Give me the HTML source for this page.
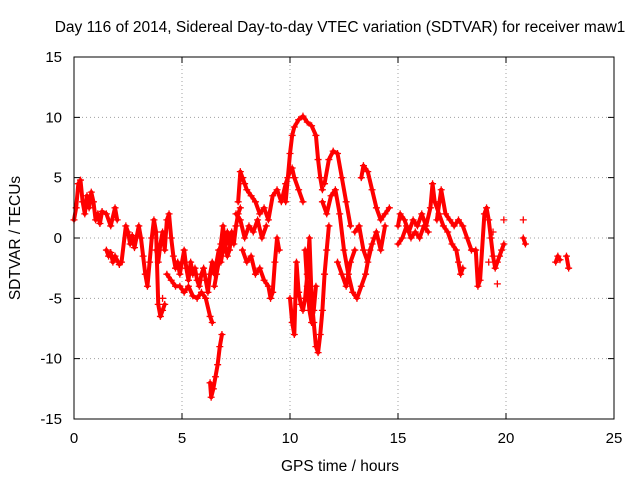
<!DOCTYPE html>
<html><head><meta charset="utf-8"><style>
body{margin:0;background:#fff}
svg{display:block;font-family:"Liberation Sans",sans-serif}
</style></head><body>
<svg id="chart" width="640" height="480">
<rect width="640" height="480" fill="#fff"/>
<text x="340" y="32" font-size="15.5" text-anchor="middle">Day 116 of 2014, Sidereal Day-to-day VTEC variation (SDTVAR) for receiver maw1</text>
<text x="340" y="471" font-size="15.5" text-anchor="middle">GPS time / hours</text>
<text x="20" y="238" font-size="15.5" text-anchor="middle" transform="rotate(-90 20 238)">SDTVAR / TECUs</text>
<g id="grid"></g><g id="ticks"></g><g id="pts"></g>
<rect x="74" y="57" width="540" height="362" fill="none" stroke="#000" stroke-width="1"/>
</svg>
<script>
const xTicks=[0,5,10,15,20,25];
const yTicks=[-15,-10,-5,0,5,10,15];
const times=[0,0.1,0.2,0.3,0.4,0.5,0.6,0.7,0.8,0.9,1.0,1.1,1.2,1.3,1.5,1.7,1.9,2.0,
1.5,1.6,1.7,1.8,1.9,2.1,2.2,2.4,2.5,2.6,2.7,2.8,3.0,3.1,3.2,3.3,3.4,3.5,3.6,3.7,3.8,
3.9,4.0,4.1,4.2,4.1,
3.8,3.9,4.0,4.1,4.2,4.3,4.4,4.5,4.6,4.7,4.8,4.9,5.0,5.1,5.2,5.3,5.4,5.5,5.6,5.7,5.8,5.9,6.0,6.1,6.2,6.3,6.4,6.5,6.6,6.7,6.8,6.9,7.0,7.1,7.2,7.3,7.4,7.5,7.6,7.7,
4.3,4.5,4.7,4.9,5.1,5.3,5.5,5.7,5.9,6.1,6.3,6.4,
6.3,6.35,6.45,6.55,6.65,6.75,6.85,
6.5,6.6,6.7,6.8,6.9,7.0,7.1,7.2,
7.6,7.7,7.8,7.9,8.0,8.2,8.4,8.6,8.8,9.0,9.2,9.4,9.6,9.8,10.0,10.1,10.2,10.4,10.6,
9.8,9.9,10.0,10.1,10.2,10.4,10.6,10.8,11.0,11.2,11.3,11.4,11.5,
7.8,8.0,8.2,8.4,8.6,8.8,9.0,9.1,9.2,9.3,9.4,9.5,
7.5,7.7,7.9,8.1,8.3,8.5,8.7,8.9,
10.0,10.1,10.2,10.3,10.4,10.5,10.6,10.7,10.8,10.9,
11.0,11.1,11.2,11.3,11.4,11.5,11.6,11.7,11.8,
10.7,10.8,10.9,11.0,11.1,11.2,
11.6,11.8,12.0,12.2,12.4,12.6,12.8,
11.5,11.7,11.9,12.1,12.3,12.5,12.7,12.9,13.1,13.3,13.5,13.7,13.9,
12.2,12.4,12.6,12.8,13.0,
13.3,13.4,13.6,13.8,14.0,14.2,14.4,14.6,
13.0,13.2,13.4,13.6,13.8,14.0,14.2,14.4,
15.0,15.1,15.3,15.5,15.7,15.9,16.1,16.3,16.5,16.6,16.7,16.9,17.1,17.3,17.5,17.7,17.8,17.9,18.0,
15.0,15.2,15.4,15.6,15.8,16.0,16.2,16.4,16.8,17.0,17.2,17.4,17.6,17.8,18.0,18.2,18.4,18.6,
18.7,18.8,19.0,19.1,19.2,19.3,19.4,19.5,19.6,19.7,19.8,19.9,19.6,19.4,19.2,
19.9,20.8,20.8,20.9,22.3,22.4,22.5,22.8,22.9];
const values=[1.5,2.5,4.5,4.8,3,2,3.5,2.5,3.8,3,1.5,2,1.2,2.2,2,1,2.5,1.5,
-1,-1.5,-1.2,-2,-1.5,-2.2,-2,1,0.5,-0.5,0.2,-0.8,1,0,-1.5,-3,-4,-2,0,1.5,0.5,
-5.5,-6.5,-6,-5.5,-5,
-1,-2,-0.5,0.5,-1,1.5,2,0,-1.5,-2.5,-2,-3,-2,-1,-2.5,-3.5,-2,-3,-2.5,-3.5,-4,-3,-2.5,-3.5,-4.5,-3,-2,-3,-2,-1,-2,-1,-0.5,-1.5,-1,0.5,-0.5,1,2,2.5,
-3,-3.5,-4,-4,-4.5,-4,-4.8,-5,-4.5,-5,-6.5,-7,
-12,-13.2,-12.5,-11.5,-10.5,-9,-8,
-4,-3,-2,-0.5,1,-1,0.5,-0.5,
3,5.5,5,4.5,4,3.5,3,2,2.5,1.5,3.5,4,3,4.5,5.5,5.8,5,4,3,
3,5,7,8.5,9.2,9.8,10.1,9.6,9.3,8.5,6.5,5,4,
-1,-2,-1.5,-3,-2.5,-3.5,-4,-5,-4.5,-2,0,-1,
2,1.5,0,1,0.5,1.5,0,1,
-5,-7,-8,-2,-4.5,-5.5,-6,-5,-3,0,
-5,-7,-9,-9.5,-8,-6,-3,-1,1,
-1,-4,-6,-7,-6,-4,
4.5,6.5,7.2,7,5,3,1,
3,2,3.5,4,2,-1,-3,-4.5,-5,-4,-3,-1,0,
-2,-3,-4,-2,-1,
5,6,5.5,4,2.5,1.5,2,2.5,
0.5,1,-1,-2,-0.5,0.5,-1,1,
1,2,1.5,0.5,1.5,1,2,1,2.5,4.5,3,2,1,0.5,-0.5,-1,-2,-3,-2.5,
-0.5,0,1,0,0.5,0,1,0.5,1.5,4,2,1.5,1,1.5,1,0,-1,-1,
-4,-3.5,2,2.5,1.5,0,-1.5,-2.5,-2,-1.5,-1,-0.5,-3.8,0.5,-2,
1.5,1.5,0,-0.5,-2,-1.5,-1.8,-1.5,-2.5];
const NS="http://www.w3.org/2000/svg";
const X0=74,X1=614,Y0=419,Y1=57;
function xs(t){return X0+(t-0)/(25-0)*(X1-X0);}
function ys(v){return Y0-(v+15)/30*(Y0-Y1);}
const grid=document.getElementById('grid'),ticks=document.getElementById('ticks'),pts=document.getElementById('pts');
xTicks.forEach(t=>{
  const x=xs(t);
  if(t>0&&t<25){const l=document.createElementNS(NS,'line');
  
  
  l.setAttribute('x1',x);l.setAttribute('x2',x);l.setAttribute('y1',Y1);l.setAttribute('y2',Y0);
  l.setAttribute('stroke','#a0a0a0');l.setAttribute('stroke-dasharray','1,3');grid.appendChild(l);}
  const tk=document.createElementNS(NS,'path');
  
  
  tk.setAttribute('d',`M${x},${Y0}v-6M${x},${Y1}v6`);tk.setAttribute('stroke','#000');ticks.appendChild(tk);
  const tx=document.createElementNS(NS,'text');
  
  
  tx.setAttribute('x',x);tx.setAttribute('y',443);tx.setAttribute('font-size','15');tx.setAttribute('text-anchor','middle');
  tx.textContent=t;ticks.appendChild(tx);
});
yTicks.forEach(v=>{
  const y=ys(v);
  if(v>-15&&v<15){const l=document.createElementNS(NS,'line');
  
  
  l.setAttribute('x1',X0);l.setAttribute('x2',X1);l.setAttribute('y1',y);l.setAttribute('y2',y);
  l.setAttribute('stroke','#a0a0a0');l.setAttribute('stroke-dasharray','1,3');grid.appendChild(l);}
  const tk=document.createElementNS(NS,'path');
  
  
  tk.setAttribute('d',`M${X0},${y}h6M${X1},${y}h-6`);tk.setAttribute('stroke','#000');ticks.appendChild(tk);
  const tx=document.createElementNS(NS,'text');
  
  
  tx.setAttribute('x',62);tx.setAttribute('y',y+5);tx.setAttribute('font-size','15');tx.setAttribute('text-anchor','end');
  tx.textContent=v;ticks.appendChild(tx);
});
let d='',trail='';
for(let i=0;i<times.length;i++){
  const x=xs(times[i]),y=ys(values[i]);
  d+=`M${x-3.5},${y}h7M${x},${y-3.5}v7`;
  if(i>0&&times[i]>times[i-1]&&times[i]-times[i-1]<=0.25){
    trail+=`M${xs(times[i-1])},${ys(values[i-1])}L${x},${y}`;
  }
}
const tr=document.createElementNS(NS,'path');


tr.setAttribute('d',trail);tr.setAttribute('stroke','#f00');tr.setAttribute('stroke-width','4');tr.setAttribute('fill','none');tr.setAttribute('stroke-linecap','round');
pts.appendChild(tr);
const p=document.createElementNS(NS,'path');


p.setAttribute('d',d);p.setAttribute('stroke','#f00');p.setAttribute('stroke-width','1.3');p.setAttribute('fill','none');
pts.appendChild(p);
</script>
</body></html>
